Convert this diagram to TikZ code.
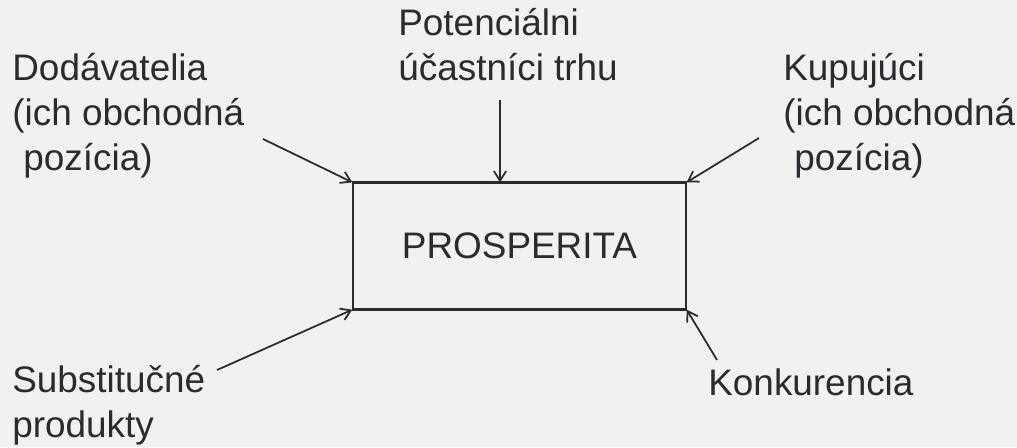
\documentclass[tikz,border=0pt]{standalone}
\usepackage{fontspec}
\setmainfont{Liberation Sans}
\usetikzlibrary{arrows.meta}
\definecolor{paper}{RGB}{241,241,239}
\definecolor{ink}{RGB}{42,42,48}
\tikzset{
	lbl/.style={anchor=base west,align=left,inner sep=0,text=ink,font=\fontsize{21}{25.5}\selectfont},
	arr/.style={->,draw=ink,line width=1pt},
}
\begin{document}
\begin{tikzpicture}[x=.02cm,y=-.02cm,>={Straight Barb[length=5.5pt,width=7pt]}]
	\fill[paper] (0,0) rectangle (1017,447);
	\useasboundingbox (0,0) rectangle (1017,447);
	% central box
	\node (B) [draw=ink,line width=.8pt,inner sep=0,minimum width=6.66cm,minimum height=2.52cm,text=ink,font=\fontsize{21}{25.5}\selectfont] at (519.5,246) {PROSPERITA};
	\draw[ink,line width=1.5pt] (B.north west)--(B.north east) (B.south west)--(B.south east);
	% labels (anchored at the baseline of the last line)
	\node (Dod) [lbl] at (12,170) {Dodávatelia\\(ich obchodná\\\hspace{.3em}pozícia)};
	\node (Pot) [lbl] at (398,80) {Potenciálni\\účastníci trhu};
	\node (Kup) [lbl] at (783,170) {Kupujúci\\(ich obchodná\\\hspace{.3em}pozícia)};
	\node (Sub) [lbl] at (12,437) {Substitučné\\produkty};
	\node (Kon) [lbl] at (708,395) {Konkurencia};
	% arrows
	\coordinate (P1) at (263,139);
	\coordinate (P2) at (500,100);
	\coordinate (P3) at (759,138);
	\coordinate (P4) at (217,370);
	\coordinate (P5) at (717,360);
	\draw[arr] (P1)--(B.north west);
	\draw[arr] (P2)--(B.north-|P2);
	\draw[arr] (P3)--(B.north east);
	\draw[arr] (P4)--(B.south west);
	\draw[arr] (P5)--(B.south east);
\end{tikzpicture}
\end{document}
